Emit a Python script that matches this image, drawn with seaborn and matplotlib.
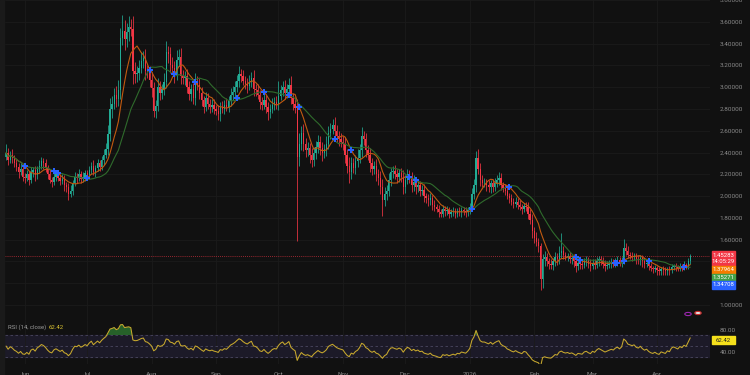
import numpy as np
import pandas as pd
import matplotlib.pyplot as plt
from matplotlib.patches import Rectangle
import seaborn as sns

# daily closes, 2025-05-23 .. 2026-04-18 (one row of ten days per line)
first_open = 2.36
closes = [
    2.40, 2.33, 2.38, 2.35, 2.30, 2.27, 2.22, 2.25, 2.18, 2.17,
    2.20, 2.15, 2.22, 2.24, 2.19, 2.25, 2.28, 2.32, 2.30, 2.26,
    2.20, 2.15, 2.13, 2.18, 2.20, 2.17, 2.14, 2.16, 2.10, 2.08,
    2.02, 2.05, 2.12, 2.18, 2.17, 2.20, 2.16, 2.18, 2.21, 2.19,
    2.24, 2.28, 2.22, 2.26, 2.30, 2.27, 2.33, 2.38, 2.43, 2.57,
    2.80, 2.85, 2.93, 2.89, 2.97, 3.45, 3.52, 3.44, 3.51, 3.55,
    3.53, 3.15, 3.12, 3.13, 3.18, 3.24, 3.27, 3.15, 3.13, 3.07,
    2.99, 2.78, 2.83, 3.00, 2.95, 2.98, 3.05, 3.32, 3.30, 3.20,
    3.18, 3.12, 3.25, 3.28, 3.10, 3.08, 3.10, 3.00, 2.94, 2.98,
    2.90, 3.05, 3.02, 2.95, 2.88, 2.82, 2.90, 2.85, 2.82, 2.84,
    2.80, 2.78, 2.75, 2.82, 2.80, 2.84, 2.82, 2.87, 2.93, 2.96,
    3.00, 3.06, 3.12, 3.10, 3.06, 3.03, 3.01, 3.05, 3.08, 2.98,
    2.97, 2.93, 2.86, 2.84, 2.88, 2.82, 2.77, 2.80, 2.84, 2.86,
    2.85, 2.92, 2.97, 3.00, 2.95, 2.98, 3.02, 2.90, 2.85, 2.81,
    2.36, 2.48, 2.58, 2.48, 2.42, 2.44, 2.38, 2.33, 2.40, 2.45,
    2.50, 2.44, 2.40, 2.43, 2.48, 2.58, 2.62, 2.65, 2.60, 2.55,
    2.52, 2.50, 2.48, 2.38, 2.28, 2.22, 2.30, 2.26, 2.32, 2.35,
    2.42, 2.55, 2.52, 2.42, 2.38, 2.30, 2.25, 2.28, 2.20, 2.17,
    2.08, 1.96, 2.02, 2.05, 2.15, 2.22, 2.23, 2.20, 2.18, 2.21,
    2.18, 2.08, 2.15, 2.20, 2.17, 2.10, 2.13, 2.08, 2.10, 2.05,
    2.06, 2.00, 1.98, 1.96, 1.98, 1.92, 1.90, 1.88, 1.85, 1.84,
    1.88, 1.86, 1.87, 1.84, 1.85, 1.86, 1.84, 1.86, 1.85, 1.87,
    1.86, 1.85, 1.87, 1.90, 2.02, 2.10, 2.35, 2.25, 2.15, 2.12,
    2.12, 2.10, 2.08, 2.12, 2.08, 2.12, 2.15, 2.17, 2.10, 2.07,
    2.05, 2.00, 1.98, 1.95, 1.93, 1.95, 1.92, 1.90, 1.88, 1.91,
    1.90, 1.84, 1.78, 1.68, 1.62, 1.58, 1.54, 1.24, 1.42, 1.44,
    1.40, 1.38, 1.37, 1.40, 1.44, 1.42, 1.48, 1.50, 1.46, 1.44,
    1.45, 1.42, 1.43, 1.40, 1.36, 1.39, 1.38, 1.37, 1.40, 1.41,
    1.38, 1.36, 1.39, 1.37, 1.40, 1.42, 1.40, 1.38, 1.36, 1.37,
    1.38, 1.39, 1.38, 1.40, 1.41, 1.39, 1.41, 1.52, 1.50, 1.46,
    1.45, 1.44, 1.45, 1.42, 1.41, 1.43, 1.40, 1.38, 1.39, 1.36,
    1.34, 1.33, 1.34, 1.32, 1.31, 1.33, 1.32, 1.31, 1.33, 1.32,
    1.35, 1.36, 1.35, 1.34, 1.36, 1.35, 1.37, 1.36, 1.40, 1.45283,
]
# upper / lower wick lengths in cents
wick_hi = [
    8, 4, 3, 5, 3, 4, 3, 5, 4, 3,
    4, 3, 5, 3, 4, 3, 5, 4, 3, 4,
    3, 4, 3, 5, 3, 4, 3, 4, 3, 3,
    4, 5, 3, 4, 3, 5, 3, 4, 3, 3,
    4, 3, 5, 3, 4, 3, 4, 5, 6, 8,
    10, 7, 6, 8, 10, 9, 14, 10, 8, 10,
    8, 12, 8, 6, 7, 8, 6, 8, 5, 6,
    7, 6, 5, 8, 6, 5, 8, 10, 6, 7,
    8, 6, 9, 7, 8, 6, 5, 7, 6, 5,
    6, 8, 5, 6, 5, 4, 6, 5, 4, 5,
    5, 4, 6, 4, 5, 4, 6, 5, 6, 5,
    6, 5, 7, 5, 6, 4, 5, 6, 6, 8,
    5, 6, 4, 5, 6, 5, 4, 5, 6, 5,
    6, 14, 5, 6, 7, 5, 6, 8, 5, 6,
    8, 10, 6, 8, 5, 6, 5, 6, 5, 6,
    6, 5, 6, 5, 7, 6, 5, 6, 8, 5,
    5, 6, 5, 6, 5, 8, 6, 5, 6, 8,
    6, 8, 5, 6, 5, 6, 5, 4, 6, 5,
    6, 8, 6, 5, 6, 4, 5, 6, 5, 4,
    5, 6, 4, 5, 4, 5, 6, 4, 5, 4,
    4, 5, 3, 4, 5, 3, 4, 3, 4, 3,
    4, 3, 4, 3, 3, 4, 3, 3, 4, 3,
    3, 4, 3, 4, 5, 6, 6, 8, 5, 4,
    5, 4, 5, 3, 4, 5, 4, 5, 4, 3,
    4, 5, 3, 4, 3, 4, 3, 4, 3, 3,
    4, 5, 4, 6, 4, 5, 4, 3, 5, 6,
    4, 3, 4, 3, 5, 4, 6, 16, 4, 3,
    3, 4, 3, 4, 3, 3, 4, 3, 3, 4,
    3, 4, 3, 3, 4, 3, 3, 4, 3, 3,
    3, 4, 3, 3, 4, 3, 3, 9, 5, 4,
    3, 4, 3, 3, 4, 3, 3, 4, 3, 3,
    3, 2, 3, 2, 3, 2, 3, 3, 2, 3,
    3, 2, 3, 2, 3, 2, 3, 2, 3, 2,
]
wick_lo = [
    3, 4, 3, 5, 3, 4, 5, 3, 4, 5,
    3, 5, 3, 4, 5, 3, 4, 3, 5, 4,
    4, 3, 5, 3, 4, 3, 4, 3, 5, 4,
    6, 3, 4, 3, 5, 3, 4, 3, 4, 3,
    3, 4, 3, 4, 3, 4, 3, 4, 3, 5,
    6, 8, 5, 7, 6, 8, 6, 10, 7, 9,
    6, 12, 8, 7, 6, 5, 6, 8, 5, 7,
    8, 5, 6, 5, 7, 6, 5, 6, 8, 7,
    6, 8, 5, 6, 7, 5, 6, 5, 6, 7,
    5, 6, 5, 6, 5, 6, 4, 5, 6, 5,
    5, 4, 5, 6, 4, 5, 4, 5, 4, 5,
    5, 4, 6, 5, 4, 5, 6, 4, 5, 6,
    5, 4, 6, 5, 4, 6, 7, 5, 4, 5,
    5, 6, 4, 5, 6, 5, 4, 5, 6, 5,
    77, 8, 6, 7, 6, 5, 8, 6, 5, 6,
    5, 6, 8, 5, 6, 5, 6, 5, 6, 5,
    6, 5, 6, 8, 7, 10, 6, 5, 6, 5,
    5, 6, 5, 6, 5, 8, 6, 5, 6, 7,
    6, 14, 5, 6, 5, 6, 5, 4, 6, 5,
    5, 6, 5, 4, 5, 6, 5, 6, 4, 5,
    4, 5, 4, 5, 4, 5, 4, 3, 4, 3,
    3, 4, 3, 4, 3, 3, 4, 3, 3, 4,
    3, 4, 3, 3, 4, 5, 6, 5, 6, 4,
    4, 5, 4, 5, 4, 3, 4, 5, 4, 3,
    4, 3, 4, 3, 4, 3, 4, 3, 4, 3,
    4, 5, 4, 6, 5, 4, 5, 10, 8, 6,
    4, 5, 4, 5, 4, 5, 4, 5, 4, 3,
    4, 3, 4, 5, 6, 4, 5, 4, 3, 4,
    4, 5, 3, 4, 3, 4, 3, 4, 5, 3,
    3, 4, 3, 3, 4, 3, 4, 3, 4, 3,
    3, 4, 3, 4, 3, 4, 5, 4, 3, 4,
    3, 4, 3, 4, 3, 3, 4, 3, 3, 4,
    3, 3, 4, 3, 3, 4, 3, 3, 3, 2,
]
price_ticks = [1.0, 1.2, 1.4, 1.6, 1.8, 2.0, 2.2, 2.4, 2.6, 2.8, 3.0, 3.2, 3.4, 3.6, 3.8]
hidden_ticks = [1.2, 1.4]
month_labels = ["Jun", "Jul", "Aug", "Sep", "Oct", "Nov", "Dec", "2026", "Feb", "Mar", "Apr"]
last_labels = [("1.45283\n14:05:29", "#f23645"), ("1.37964", "#f57c00"),
               ("1.35271", "#43a047"), ("1.34708", "#2962ff")]
rsi_last = "62.42"

bg = "#111111"
up_col, dn_col = "#22ab94", "#f23645"
sns.set_theme(style="dark", rc={"axes.facecolor": bg, "figure.facecolor": bg})
plt.rcParams["font.family"] = ["Roboto", "DejaVu Sans"]

dates = pd.date_range("2025-05-23", periods=len(closes), freq="D")
c = np.array(closes)
o = np.r_[first_open, c[:-1]]
hi = np.maximum(o, c) + np.array(wick_hi) / 100
lo = np.minimum(o, c) - np.array(wick_lo) / 100
x = np.arange(len(c))
up = c >= o

s = pd.Series(c)
ma_fast = s.rolling(9, min_periods=1).mean().values
ma_slow = s.rolling(21, min_periods=1).mean().values

# Wilder RSI(14), seeded neutral so the first visible bars are not distorted
chg = np.diff(c, prepend=c[0])
avg_g = avg_l = np.mean(np.abs(chg[1:15])) / 2
rsi = []
for d in chg:
    avg_g = (avg_g * 13 + max(d, 0)) / 14
    avg_l = (avg_l * 13 + max(-d, 0)) / 14
    rsi.append(100 - 100 / (1 + avg_g / avg_l))
rsi = np.array(rsi)

W, H = 750, 375
fig = plt.figure(figsize=(7.5, 3.75), dpi=100)
fig.patches.append(Rectangle((0, 0), 4 / W, 1, transform=fig.transFigure, color="#1a1a1a", zorder=0))
ax = fig.add_axes([5 / W, 1 - 320 / H, 705 / W, 320 / H])
rax = fig.add_axes([5 / W, 1 - 364 / H, 705 / W, 44 / H], sharex=ax)

# candles
cols = np.where(up, up_col, dn_col)
ax.vlines(x, lo, hi, colors=cols, linewidth=0.55, zorder=2)
ax.bar(x, np.maximum(np.abs(c - o), 0.004), bottom=np.minimum(o, c), width=0.62,
       color=cols, linewidth=0, zorder=3)
sns.lineplot(x=x, y=ma_fast, ax=ax, color="#c15a10", linewidth=0.8, zorder=4)
sns.lineplot(x=x, y=ma_slow, ax=ax, color="#2f6b2c", linewidth=0.8, zorder=4)
sgn = np.sign(ma_fast - ma_slow)
cross = np.where((sgn[1:] != sgn[:-1]) & (sgn[1:] != 0))[0] + 1
sns.scatterplot(x=x[cross], y=ma_fast[cross], ax=ax, marker="P", s=16, color="#2962ff",
                linewidth=0, zorder=5)
ax.axhline(c[-1], color="#f23645", linewidth=0.6, linestyle=(0, (1, 1.5)), alpha=0.8, zorder=1)

ax.set_xlim(-0.5, 338.5)
ax.set_ylim(0.863, 3.783)
ax.set_yticks(price_ticks)
ax.set_yticklabels(["" if t in hidden_ticks else f"{t:.5f}" for t in price_ticks])
ax.yaxis.tick_right()
ax.tick_params(axis="y", length=0, pad=7, labelsize=4.6, labelcolor="#8a8a8a")
ax.tick_params(axis="x", length=0, labelbottom=False)
month_pos = [i for i, d in enumerate(dates) if d.day == 1]
ax.set_xticks(month_pos)
ax.grid(True, color="#1b1b1b", linewidth=0.6)
ax.set_xlabel("")
ax.set_ylabel("")
for sp in ax.spines.values():
    sp.set_visible(False)

# RSI pane
rax.axhspan(30, 70, color="#1c1a28", zorder=0)
for lvl in (70, 50, 30):
    rax.axhline(lvl, color="#4a4760", linewidth=0.6, linestyle=(0, (3, 3)), zorder=1)
rax.fill_between(x, 70, rsi, where=rsi > 70, interpolate=True, color="#2e7d32", alpha=0.75, linewidth=0, zorder=2)
sns.lineplot(x=x, y=rsi, ax=rax, color="#c8a92e", linewidth=0.75, zorder=3)
rax.set_ylim(17.3, 97.3)
rax.set_yticks([80, 40])
rax.set_yticklabels(["80.00", "40.00"])
rax.yaxis.tick_right()
rax.tick_params(axis="y", length=0, pad=7, labelsize=4.6, labelcolor="#8a8a8a")
rax.set_xticks(month_pos)
rax.set_xticklabels(month_labels)
rax.tick_params(axis="x", length=0, pad=5.5, labelsize=4.6, labelcolor="#8a8a8a")
rax.grid(True, axis="x", color="#1b1b1b", linewidth=0.6)
rax.grid(False, axis="y")
rax.set_xlabel("")
rax.set_ylabel("")
for sp in rax.spines.values():
    sp.set_visible(False)
rax.text(3 / 705, 0.83, "RSI (14, close)", transform=rax.transAxes, fontsize=4.3, color="#9a9a9a", va="center")
rax.text(44 / 705, 0.83, rsi_last, transform=rax.transAxes, fontsize=4.3, color="#d9c232", va="center")

# price badges on the right scale
badge_y = [(251, 266), (266, 273.5), (273.5, 281), (281, 288.5)]
for (txt, col), (y0, y1) in zip(last_labels, badge_y):
    fig.patches.append(Rectangle((712 / W, 1 - y1 / H), 23 / W, (y1 - y0) / H,
                                 transform=fig.transFigure, color=col, zorder=5))
    fig.text(723.5 / W, 1 - (y0 + y1) / 2 / H, txt, ha="center", va="center", fontsize=4.3,
             color="white", linespacing=1.2, zorder=6)
fig.patches.append(Rectangle((712 / W, 1 - 344 / H), 23 / W, 8 / H, transform=fig.transFigure,
                             color="#f5e01b", zorder=5))
fig.text(723.5 / W, 1 - 340 / H, rsi_last, ha="center", va="center", fontsize=4.3, color="#222222", zorder=6)

# small event icons near the bottom of the price pane
fig.add_artist(plt.Circle((688 / W, 1 - 314 / H), 3.2 / W, transform=fig.transFigure,
                          fill=False, edgecolor="#9c27b0", linewidth=0.8))
fig.add_artist(plt.Circle((698 / W, 1 - 313 / H), 3.2 / W, transform=fig.transFigure,
                          facecolor="#e0e0e0", edgecolor="#c62828", linewidth=0.8))

fig.savefig("out.png", dpi=100)
